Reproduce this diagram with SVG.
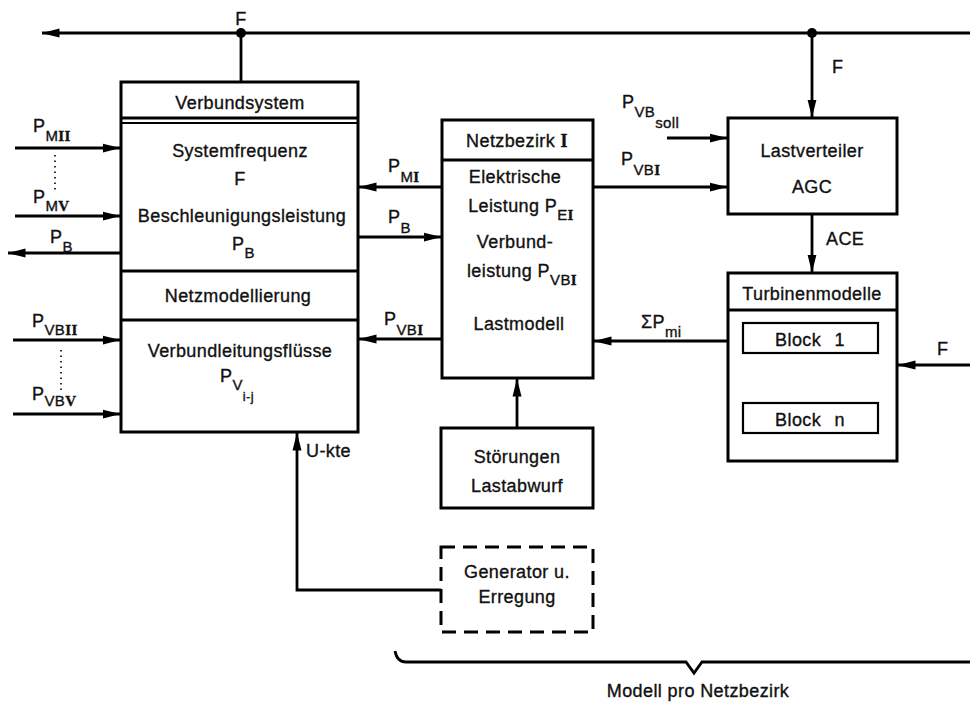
<svg xmlns="http://www.w3.org/2000/svg" width="970" height="704" viewBox="0 0 970 704">
<style>
.box{fill:#fff;stroke:#000;stroke-width:3}
.sep{stroke:#000;stroke-width:3;fill:none}
.ln{stroke:#000;stroke-width:2.8;fill:none}
.dot{stroke:#000;stroke-width:1.6;fill:none;stroke-dasharray:1.5 4}
.t{font-family:"Liberation Sans","DejaVu Sans",sans-serif;font-size:18px;fill:#111;stroke:#111;stroke-width:0.35;letter-spacing:0.4px}
.c{text-anchor:middle}
.s{font-size:15px}
.ss{font-size:13px}
.r{font-family:"Liberation Serif",serif;font-weight:bold}
</style>
<defs>
<marker id="ah" viewBox="0 0 18 10" refX="17.5" refY="5" markerWidth="18" markerHeight="10" markerUnits="userSpaceOnUse" orient="auto"><path d="M0,0.5 L18,5 L0,9.5 Z" fill="#000"/></marker>
</defs>

<g id="connectors">
<path class="ln" d="M970,33 H42" marker-end="url(#ah)"/>
<circle cx="241" cy="33" r="5" fill="#000"/>
<circle cx="812" cy="33" r="5" fill="#000"/>
<path class="ln" d="M241,33 V82"/>
<path class="ln" d="M812,33 V117" marker-end="url(#ah)"/>
<path class="ln" d="M812,215 V272" marker-end="url(#ah)"/>
<path class="ln" d="M667,138 H727" marker-end="url(#ah)"/>
<path class="ln" d="M594,187 H727" marker-end="url(#ah)"/>
<path class="ln" d="M727,341 H594" marker-end="url(#ah)"/>
<path class="ln" d="M970,365 H898" marker-end="url(#ah)"/>
<path class="ln" d="M441,187 H359" marker-end="url(#ah)"/>
<path class="ln" d="M359,237 H441" marker-end="url(#ah)"/>
<path class="ln" d="M441,339 H359" marker-end="url(#ah)"/>
<path class="ln" d="M517,428 V379" marker-end="url(#ah)"/>
<path class="ln" d="M441,590 H297 V433" marker-end="url(#ah)"/>
<path class="ln" d="M15,148 H120" marker-end="url(#ah)"/>
<path class="ln" d="M15,216 H120" marker-end="url(#ah)"/>
<path class="ln" d="M120,253 H8" marker-end="url(#ah)"/>
<path class="ln" d="M13,340 H120" marker-end="url(#ah)"/>
<path class="ln" d="M13,414 H120" marker-end="url(#ah)"/>
<path class="dot" d="M55,155 V190"/>
<path class="dot" d="M61,350 V392"/>
<path class="dot" d="M812,358 V400"/>
<path class="ln" d="M395,651 Q397,662 406,662 H686 L694,673 L702,662 H970"/>
<text class="t c" x="241" y="25">F</text>
<text class="t" x="832" y="73">F</text>
<text class="t" x="826" y="245">ACE</text>
<text class="t" x="937" y="355">F</text>
<text class="t" x="306" y="457">U-kte</text>
<text class="t" x="33" y="132">P<tspan class="s" dy="9">M</tspan><tspan class="s r">II</tspan></text>
<text class="t" x="33" y="203">P<tspan class="s" dy="8">M</tspan><tspan class="s r">V</tspan></text>
<text class="t" x="50" y="243">P<tspan class="s" dy="9">B</tspan></text>
<text class="t" x="32" y="327">P<tspan class="s" dy="8">VB</tspan><tspan class="s r">II</tspan></text>
<text class="t" x="32" y="400">P<tspan class="s" dy="6">VB</tspan><tspan class="s r">V</tspan></text>
<text class="t" x="388" y="172">P<tspan class="s" dy="10">M</tspan><tspan class="s r">I</tspan></text>
<text class="t" x="388" y="223">P<tspan class="s" dy="10">B</tspan></text>
<text class="t" x="384" y="325">P<tspan class="s" dy="10">VB</tspan><tspan class="s r">I</tspan></text>
<text class="t" x="621" y="165">P<tspan class="s" dy="10">VB</tspan><tspan class="s r">I</tspan></text>
<text class="t" x="622" y="108">P<tspan class="s" dy="9">VB</tspan><tspan class="s" dy="11">soll</tspan></text>
<text class="t" x="641" y="328">ΣP<tspan class="s" dy="9">mi</tspan></text>
<text class="t c" x="698" y="697">Modell pro Netzbezirk</text>
</g>

<g id="verbundsystem">
<rect class="box" x="121" y="82" width="237" height="350"/>
<path class="sep" d="M121,118 H358"/>
<path class="ln" d="M121,123 H358" style="stroke-width:2"/>
<path class="sep" d="M121,271 H358"/>
<path class="sep" d="M121,320 H358"/>
<text class="t c" x="240" y="109">Verbundsystem</text>
<text class="t c" x="240" y="157">Systemfrequenz</text>
<text class="t c" x="240" y="185">F</text>
<text class="t c" x="242" y="222">Beschleunigungsleistung</text>
<text class="t" x="232" y="250">P<tspan class="s" dy="8">B</tspan></text>
<text class="t c" x="238" y="302">Netzmodellierung</text>
<text class="t c" x="240" y="357">Verbundleitungsflüsse</text>
<text class="t" x="220" y="382">P<tspan class="s" dy="8">V</tspan><tspan class="ss" dy="11">i-j</tspan></text>
</g>

<g id="netzbezirk">
<rect class="box" x="442" y="120" width="151" height="258"/>
<path class="sep" d="M442,160 H593"/>
<text class="t c" x="517" y="147">Netzbezirk <tspan class="r">I</tspan></text>
<text class="t c" x="515" y="183">Elektrische</text>
<text class="t c" x="521" y="212">Leistung  P<tspan class="s" dy="8">E</tspan><tspan class="s r">I</tspan></text>
<text class="t c" x="515" y="248">Verbund-</text>
<text class="t c" x="522" y="277">leistung  P<tspan class="s" dy="8">VB</tspan><tspan class="s r">I</tspan></text>
<text class="t c" x="519" y="330">Lastmodell</text>
</g>

<g id="stoerungen">
<rect class="box" x="441" y="428" width="152" height="80"/>
<text class="t c" x="517" y="463">Störungen</text>
<text class="t c" x="517" y="492">Lastabwurf</text>
</g>

<g id="generator">
<rect class="box" x="441" y="547" width="152" height="85" style="stroke-dasharray:14 8"/>
<text class="t c" x="517" y="578">Generator u.</text>
<text class="t c" x="517" y="603">Erregung</text>
</g>

<g id="lastverteiler">
<rect class="box" x="728" y="118" width="169" height="96"/>
<text class="t c" x="812" y="157">Lastverteiler</text>
<text class="t c" x="812" y="193">AGC</text>
</g>

<g id="turbinenmodelle">
<rect class="box" x="728" y="273" width="169" height="188"/>
<path class="sep" d="M728,310 H897"/>
<text class="t c" x="812" y="300">Turbinenmodelle</text>
<rect x="743" y="323" width="135" height="30" fill="#fff" stroke="#000" stroke-width="2.2"/>
<text class="t c" x="810" y="346" style="word-spacing:8px">Block 1</text>
<rect x="743" y="403" width="135" height="30" fill="#fff" stroke="#000" stroke-width="2.2"/>
<text class="t c" x="810" y="426" style="word-spacing:8px">Block n</text>
</g>
</svg>
